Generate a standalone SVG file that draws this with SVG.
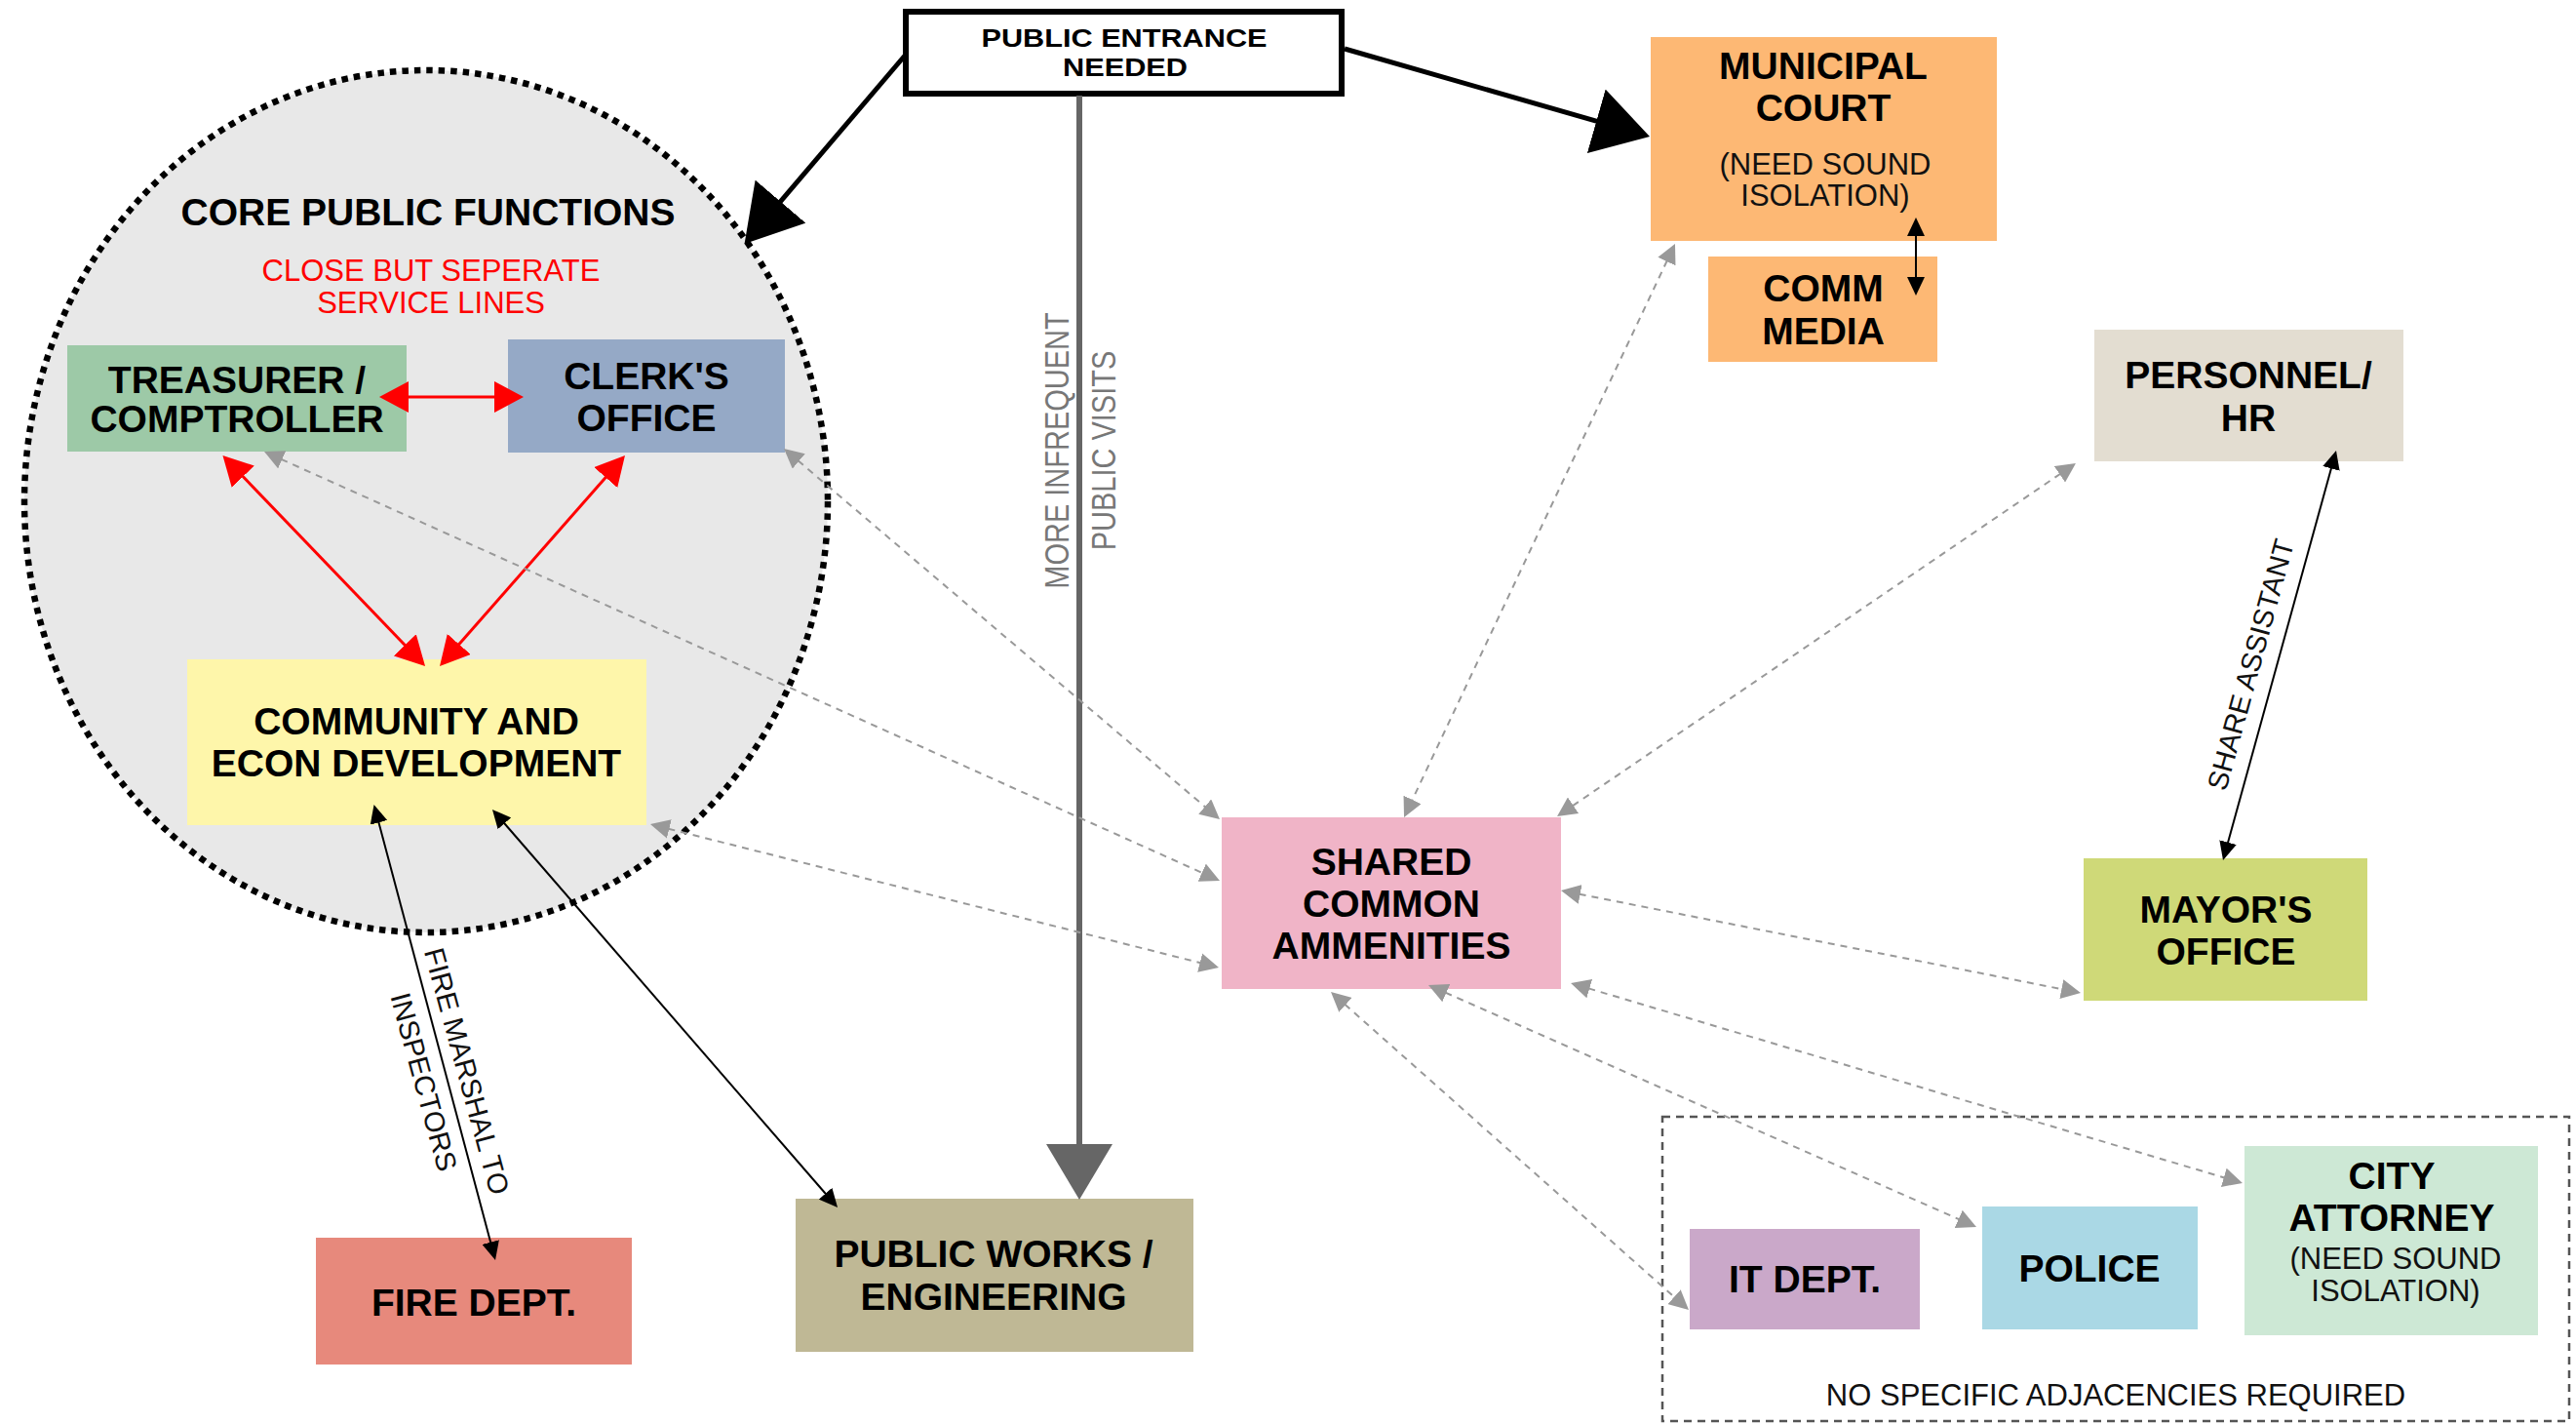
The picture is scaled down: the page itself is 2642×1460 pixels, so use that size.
<svg xmlns="http://www.w3.org/2000/svg" width="2642" height="1460" viewBox="0 0 2642 1460">
<style>
.b{font-family:"Liberation Sans",Arial,sans-serif;font-weight:bold;font-size:39px;text-anchor:middle;fill:#000}
.n{font-family:"Liberation Sans",Arial,sans-serif;font-size:31px;text-anchor:middle;fill:#111}
.red{font-family:"Liberation Sans",Arial,sans-serif;font-size:31px;text-anchor:middle;fill:#ff0000}
.lbl{font-family:"Liberation Sans",Arial,sans-serif;font-size:29px;text-anchor:middle;fill:#111}
.glbl{font-family:"Liberation Sans",Arial,sans-serif;font-size:29px;text-anchor:middle;fill:#777}
.gd{fill:none;stroke:#999;stroke-width:2;stroke-dasharray:7 6;marker-start:url(#mg);marker-end:url(#mg)}
.rd{fill:none;stroke:#ff0000;stroke-width:3;marker-start:url(#mr);marker-end:url(#mr)}
.bk{fill:none;stroke:#000;stroke-width:2;marker-start:url(#mb);marker-end:url(#mb)}
</style>
<defs>
<marker id="mbig" markerUnits="userSpaceOnUse" viewBox="0 0 57 68" markerWidth="57" markerHeight="68" refX="27" refY="34" orient="auto"><path d="M0,0 L57,34 L0,68 z" fill="#000"/></marker>
<marker id="mbigg" markerUnits="userSpaceOnUse" viewBox="0 0 57 68" markerWidth="57" markerHeight="68" refX="27" refY="34" orient="auto"><path d="M0,0 L57,34 L0,68 z" fill="#666"/></marker>
<marker id="mr" markerUnits="userSpaceOnUse" viewBox="0 0 30 32" markerWidth="30" markerHeight="32" refX="22" refY="16" orient="auto-start-reverse"><path d="M0,0 L30,16 L0,32 z" fill="#ff0000"/></marker>
<marker id="mb" markerUnits="userSpaceOnUse" viewBox="0 0 19 18" markerWidth="19" markerHeight="18" refX="13" refY="9" orient="auto-start-reverse"><path d="M0,0 L19,9 L0,18 z" fill="#000"/></marker>
<marker id="mg" markerUnits="userSpaceOnUse" viewBox="0 0 20 20" markerWidth="20" markerHeight="20" refX="14" refY="10" orient="auto-start-reverse"><path d="M0,0 L20,10 L0,20 z" fill="#999"/></marker>
</defs>
<rect width="2642" height="1460" fill="#fff"/>

<g id="core-public-functions">
<ellipse cx="437" cy="514" rx="412" ry="442" fill="#e8e8e8" stroke="#000" stroke-width="6.5" stroke-dasharray="6.5 6"/>
<text class="b" x="439" y="231">CORE PUBLIC FUNCTIONS</text>
<text class="red" x="442" y="288">CLOSE BUT SEPERATE</text>
<text class="red" x="442" y="321">SERVICE LINES</text>
</g>

<g id="no-adjacency-group">
<rect x="1705" y="1145" width="930" height="312" fill="none" stroke="#555" stroke-width="2.5" stroke-dasharray="8 6"/>
<text class="n" x="2170" y="1441">NO SPECIFIC ADJACENCIES REQUIRED</text>
</g>

<g id="treasurer">
<rect x="69" y="354" width="348" height="109" fill="#9dc9a7"/>
<text class="b" x="243" y="403">TREASURER /</text>
<text class="b" x="243" y="443">COMPTROLLER</text>
</g>
<g id="clerk">
<rect x="521" y="348" width="284" height="116" fill="#95a9c6"/>
<text class="b" x="663" y="399">CLERK'S</text>
<text class="b" x="663" y="442">OFFICE</text>
</g>
<g id="community">
<rect x="192" y="676" width="471" height="170" fill="#fef6aa"/>
<text class="b" x="427" y="753">COMMUNITY AND</text>
<text class="b" x="427" y="796">ECON DEVELOPMENT</text>
</g>
<g id="fire">
<rect x="324" y="1269" width="324" height="130" fill="#e7897c"/>
<text class="b" x="486" y="1349">FIRE DEPT.</text>
</g>
<g id="public-works">
<rect x="816" y="1229" width="408" height="157" fill="#bfb895"/>
<text class="b" x="1019" y="1299">PUBLIC WORKS /</text>
<text class="b" x="1019" y="1343">ENGINEERING</text>
</g>
<g id="public-entrance">
<rect x="929" y="12" width="447" height="84" fill="#fff" stroke="#000" stroke-width="6"/>
<text class="b" x="1153" y="48" style="font-size:26px" textLength="293" lengthAdjust="spacingAndGlyphs">PUBLIC ENTRANCE</text>
<text class="b" x="1154" y="78" style="font-size:26px" textLength="128" lengthAdjust="spacingAndGlyphs">NEEDED</text>
</g>
<g id="municipal-court">
<rect x="1693" y="38" width="355" height="209" fill="#fdb874"/>
<text class="b" x="1870" y="81">MUNICIPAL</text>
<text class="b" x="1870" y="124">COURT</text>
<text class="n" x="1872" y="179">(NEED SOUND</text>
<text class="n" x="1872" y="211">ISOLATION)</text>
</g>
<g id="comm-media">
<rect x="1752" y="263" width="235" height="108" fill="#fdb874"/>
<text class="b" x="1870" y="309">COMM</text>
<text class="b" x="1870" y="353">MEDIA</text>
</g>
<g id="personnel">
<rect x="2148" y="338" width="317" height="135" fill="#e3ddd1"/>
<text class="b" x="2306" y="398">PERSONNEL/</text>
<text class="b" x="2306" y="442">HR</text>
</g>
<g id="mayor">
<rect x="2137" y="880" width="291" height="146" fill="#cfd978"/>
<text class="b" x="2283" y="946">MAYOR'S</text>
<text class="b" x="2283" y="989">OFFICE</text>
</g>
<g id="shared">
<rect x="1253" y="838" width="348" height="176" fill="#f0b4c7"/>
<text class="b" x="1427" y="897">SHARED</text>
<text class="b" x="1427" y="940">COMMON</text>
<text class="b" x="1427" y="983">AMMENITIES</text>
</g>
<g id="it-dept">
<rect x="1733" y="1260" width="236" height="103" fill="#caa8c9"/>
<text class="b" x="1851" y="1325">IT DEPT.</text>
</g>
<g id="police">
<rect x="2033" y="1237" width="221" height="126" fill="#aad8e5"/>
<text class="b" x="2143" y="1314">POLICE</text>
</g>
<g id="city-attorney">
<rect x="2302" y="1175" width="301" height="194" fill="#cde8d5"/>
<text class="b" x="2453" y="1219">CITY</text>
<text class="b" x="2453" y="1262">ATTORNEY</text>
<text class="n" x="2457" y="1301">(NEED SOUND</text>
<text class="n" x="2457" y="1334">ISOLATION)</text>
</g>

<g id="connectors">
<line x1="928" y1="57" x2="783" y2="227.2" stroke="#000" stroke-width="5" marker-end="url(#mbig)"/>
<line x1="1379" y1="50" x2="1663.2" y2="131.7" stroke="#000" stroke-width="5" marker-end="url(#mbig)"/>
<line x1="1107" y1="98" x2="1107" y2="1200" stroke="#666" stroke-width="6" marker-end="url(#mbigg)"/>
<text class="glbl" transform="translate(1096,462) scale(1.2,1) rotate(-90)">MORE INFREQUENT</text>
<text class="glbl" transform="translate(1144,462) scale(1.2,1) rotate(-90)">PUBLIC VISITS</text>

<line class="rd" x1="397" y1="407" x2="529" y2="407"/>
<line class="rd" x1="234" y1="472.8" x2="430.5" y2="677.2"/>
<line class="rd" x1="635.7" y1="473" x2="456.3" y2="677"/>

<line class="bk" x1="385.1" y1="830.8" x2="506.5" y2="1286.2"/>
<text class="lbl" transform="translate(469,1101) rotate(74.7)">FIRE MARSHAL TO</text>
<text class="lbl" transform="translate(425,1112) rotate(74.7)">INSPECTORS</text>
<line class="bk" x1="508.9" y1="834.5" x2="855.1" y2="1233.5"/>
<line class="bk" x1="1965" y1="229" x2="1965" y2="297"/>
<line class="bk" x1="2394.4" y1="467.8" x2="2281.6" y2="876.2"/>
<text class="lbl" transform="translate(2318,684) rotate(-74.6)">SHARE ASSISTANT</text>

<line class="gd" x1="276.5" y1="465.5" x2="1245.5" y2="900.5"/>
<line class="gd" x1="808.6" y1="463.9" x2="1246.4" y2="836.1"/>
<line class="gd" x1="672.8" y1="846.5" x2="1244.2" y2="990.5"/>
<line class="gd" x1="1715.4" y1="255.4" x2="1442.6" y2="832.6"/>
<line class="gd" x1="2124" y1="478.4" x2="1602" y2="833.6"/>
<line class="gd" x1="1606.9" y1="914.2" x2="2128.1" y2="1016.8"/>
<line class="gd" x1="1369.5" y1="1021" x2="1727.5" y2="1339"/>
<line class="gd" x1="1470.5" y1="1012.4" x2="2021.5" y2="1255.6"/>
<line class="gd" x1="1616.8" y1="1009.7" x2="2294.2" y2="1211.3"/>
</g>
</svg>
